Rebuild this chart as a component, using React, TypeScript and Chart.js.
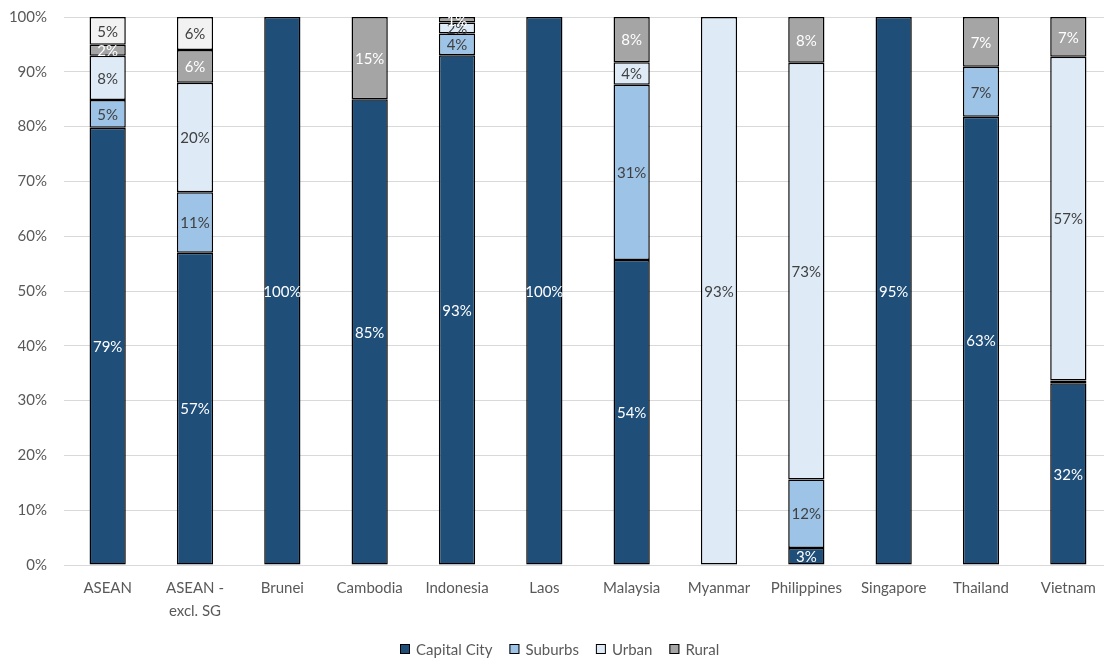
import React, { useEffect, useRef } from "react";
import { Chart, registerables } from "chart.js";

Chart.register(...registerables);

// Share of respondents by location type, per market (raw shares, %)
const categories: (string | string[])[] = [
  "ASEAN",
  ["ASEAN -", "excl. SG"],
  "Brunei",
  "Cambodia",
  "Indonesia",
  "Laos",
  "Malaysia",
  "Myanmar",
  "Philippines",
  "Singapore",
  "Thailand",
  "Vietnam",
];

const capitalCity = [79, 57, 100, 85, 93, 100, 54, 0, 3, 95, 63, 32];
const suburbs = [5, 11, 0, 0, 4, 0, 31, 0, 12, 0, 7, 0.5];
const urban = [8, 20, 0, 0, 2, 0, 4, 93, 73, 0, 0, 57];
const rural = [2, 6, 0, 15, 1, 0, 8, 0, 8, 0, 7, 7];
const other = [5, 6, 0, 0, 0, 0, 0, 0, 0, 0, 0, 0];

const yTicks = [0, 10, 20, 30, 40, 50, 60, 70, 80, 90, 100];

const seriesNames = ["Capital City", "Suburbs", "Urban", "Rural", "Other"];
const seriesRaw = [capitalCity, suburbs, urban, rural, other];
const seriesFill = ["#1f4e79", "#9dc3e6", "#deebf7", "#a5a5a5", "#f2f2f2"];
const seriesText = ["#ffffff", "#404040", "#404040", "#ffffff", "#404040"];
const inLegend = [true, true, true, true, false];

const FONT = "Lato";
const FONT_SIZE = 15;
const TEXT_GREY = "#595959";

// 100% stacking: every column is scaled to its own total
const totals = categories.map((_, i) =>
  seriesRaw.reduce((s, arr) => s + arr[i], 0)
);
const normalised = seriesRaw.map((arr) =>
  arr.map((v, i) => (v > 0 ? (v / totals[i]) * 100 : null))
);

const segmentLabels = {
  id: "segmentLabels",
  afterDatasetsDraw(chart: any) {
    const ctx: CanvasRenderingContext2D = chart.ctx;
    ctx.save();
    ctx.font = `${FONT_SIZE}px ${FONT}`;
    ctx.textAlign = "center";
    ctx.textBaseline = "middle";
    chart.data.datasets.forEach((_: any, di: number) => {
      const meta = chart.getDatasetMeta(di);
      meta.data.forEach((bar: any, i: number) => {
        const raw = seriesRaw[di][i];
        if (raw < 1) return;
        const { x, y, base } = bar.getProps(["x", "y", "base"], true);
        ctx.fillStyle = seriesText[di];
        ctx.fillText(`${Math.round(raw)}%`, x, (y + base) / 2 + 1);
      });
    });
    ctx.restore();
  },
};

const bottomLegend = {
  id: "bottomLegend",
  afterDraw(chart: any) {
    const ctx: CanvasRenderingContext2D = chart.ctx;
    ctx.save();
    ctx.font = `${FONT_SIZE}px ${FONT}`;
    ctx.textBaseline = "middle";
    ctx.textAlign = "left";
    const cy = 649;
    let x = 400;
    chart.data.datasets.forEach((ds: any, di: number) => {
      if (!inLegend[di]) return;
      ctx.fillStyle = ds.backgroundColor;
      ctx.fillRect(x, cy - 5, 10, 10);
      ctx.strokeStyle = "#000000";
      ctx.lineWidth = 1;
      ctx.strokeRect(x + 0.5, cy - 4.5, 9, 9);
      ctx.fillStyle = TEXT_GREY;
      ctx.fillText(ds.label, x + 16, cy + 1);
      x += 16 + ctx.measureText(ds.label).width + 17;
    });
    ctx.restore();
  },
};

export default function App() {
  const canvasRef = useRef<HTMLCanvasElement | null>(null);

  useEffect(() => {
    if (!canvasRef.current) return;
    Chart.defaults.font.family = FONT;
    Chart.defaults.font.size = FONT_SIZE;
    Chart.defaults.color = TEXT_GREY;

    const chart = new Chart(canvasRef.current, {
      type: "bar",
      data: {
        labels: categories,
        datasets: seriesNames.map((name, di) => ({
          label: name,
          data: normalised[di],
          backgroundColor: seriesFill[di],
          borderColor: "#000000",
          borderWidth: 1.5,
          borderSkipped: false,
          barPercentage: 0.415,
          categoryPercentage: 1,
        })),
      },
      options: {
        responsive: false,
        animation: false,
        layout: { padding: { top: 17, right: 0, bottom: 0, left: 0 } },
        plugins: {
          legend: { display: false },
          tooltip: { enabled: false },
        },
        scales: {
          x: {
            stacked: true,
            grid: { display: false, drawTicks: false },
            border: { display: true, color: "#d9d9d9", width: 1 },
            ticks: {
              padding: 12,
              color: TEXT_GREY,
              maxRotation: 0,
              autoSkip: false,
              font: { family: FONT, size: FONT_SIZE, lineHeight: 1.5 },
            },
            afterFit: (scale: any) => {
              scale.height = 94;
            },
          },
          y: {
            stacked: true,
            min: 0,
            max: 100,
            afterBuildTicks: (scale: any) => {
              scale.ticks = yTicks.map((v) => ({ value: v }));
            },
            grid: {
              color: "#d9d9d9",
              lineWidth: 1,
              drawTicks: true,
              tickLength: 17,
              tickColor: "rgba(0,0,0,0)",
            },
            border: { display: false },
            ticks: {
              padding: 0,
              color: TEXT_GREY,
              font: { family: FONT, size: FONT_SIZE },
              callback: (v: any) => `${v}%`,
            },
            afterFit: (scale: any) => {
              scale.width = 64;
            },
          },
        },
      },
      plugins: [segmentLabels, bottomLegend],
    });

    return () => chart.destroy();
  }, []);

  return (
    <div
      style={{
        position: "fixed",
        left: 0,
        top: 0,
        width: 1104,
        height: 659,
        overflow: "hidden",
        background: "#ffffff",
      }}
    >
      <canvas ref={canvasRef} width={1112} height={659} style={{ display: "block" }} />
    </div>
  );
}
